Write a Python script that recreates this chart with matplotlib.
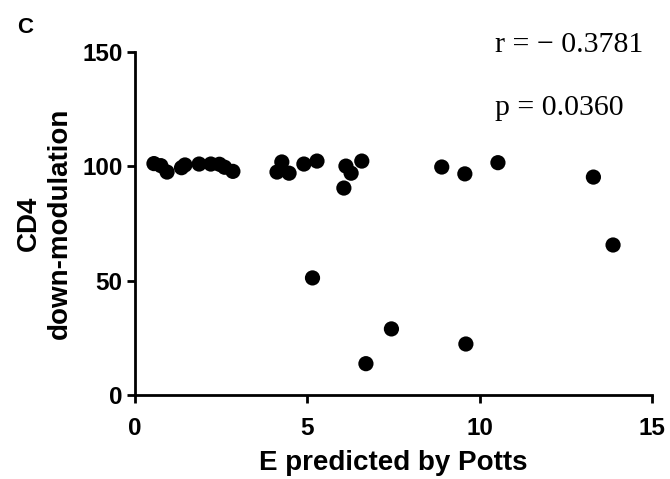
import matplotlib
matplotlib.use("Agg")
import matplotlib.pyplot as plt

x_vals = [0.55, 0.75, 0.93, 1.35, 1.45, 1.86, 2.2, 2.45, 2.6, 2.84,
          4.12, 4.26, 4.47, 4.9, 5.28, 6.06, 6.12, 6.27, 6.58,
          8.9, 9.57, 10.53, 13.3, 13.87, 5.15, 6.7, 7.44, 9.6]
y_vals = [101.2, 100.3, 97.5, 99.4, 100.6, 101.0, 101.0, 100.9, 99.6, 97.8,
          97.5, 101.9, 97.0, 101.0, 102.3, 90.5, 100.1, 97.0, 102.3,
          99.7, 96.7, 101.6, 95.3, 65.6, 51.2, 13.7, 28.9, 22.3]

xticks = [0, 5, 10, 15]
yticks = [0, 50, 100, 150]

bold = dict(family="Liberation Sans", weight="bold")

W, H = 670, 479
L, R, B, T = 135, 652, 395, 52

fig = plt.figure(figsize=(6.7, 4.79), dpi=100)
ax = fig.add_axes([L / W, 1 - B / H, (R - L) / W, (B - T) / H])
ax.scatter(x_vals, y_vals, s=120, color="black", edgecolors="none", zorder=3, clip_on=False)
ax.set_xlim(0, 15)
ax.set_ylim(0, 150)
ax.set_xticks(xticks)
ax.set_yticks(yticks)
for s in ["top", "right"]:
    ax.spines[s].set_visible(False)
for s in ["left", "bottom"]:
    ax.spines[s].set_linewidth(2)
ax.tick_params(width=2, length=6, direction="out", labelsize=17.5)
ax.tick_params(axis="x", pad=10)
ax.tick_params(axis="y", pad=3)
for lab in ax.get_xticklabels() + ax.get_yticklabels():
    lab.set_fontfamily("Liberation Sans")
    lab.set_fontweight("bold")
ax.set_xlabel("E predicted by Potts", fontsize=20, **bold)
ax.xaxis.set_label_coords(0.5, -(450 - B) / (B - T))
ax.set_ylabel("CD4\ndown-modulation", fontsize=20, linespacing=1.25, **bold)
ax.yaxis.set_label_coords(-(L - 73) / (R - L), 0.5)

fig.text(17 / W, 1 - 33 / H, "C", fontsize=16, va="baseline", **bold)
fig.text(495 / W, 1 - 52 / H, "r = \u2212 0.3781", fontsize=21.5, va="baseline",
         family="Liberation Serif")
fig.text(495 / W, 1 - 115 / H, "p = 0.0360", fontsize=21.5, va="baseline",
         family="Liberation Serif")

fig.savefig("out.png", dpi=100)
